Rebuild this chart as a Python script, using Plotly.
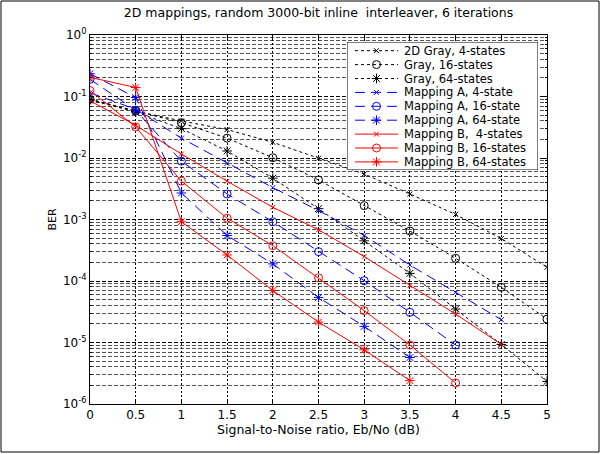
import plotly.graph_objects as go

# Eb/No grid (dB)
snr = [0, 0.5, 1, 1.5, 2, 2.5, 3, 3.5, 4, 4.5, 5]

# BER curves
gray_4 = [0.09, 0.058, 0.040, 0.029, 0.018, 0.0099, 0.0055, 0.0026, 0.00121, 0.00049, 0.000167]
gray_16 = [0.09, 0.058, 0.0375, 0.021, 0.0101, 0.0044, 0.00168, 0.00065, 0.000234, 7.9e-5, 2.4e-5]
gray_64 = [0.088, 0.056, 0.030, 0.013, 0.0047, 0.0015, 0.00045, 0.000133, 3.5e-5, 9.3e-6, 2.33e-6]
map_a_4 = [0.115, 0.062, 0.021, 0.0082, 0.0033, 0.0014, 0.00055, 0.000182, 6.5e-5, 2.35e-5]
map_a_16 = [0.19, 0.060, 0.0089, 0.0026, 0.00092, 0.0003, 0.000101, 3.1e-5, 9.1e-6]
map_a_64 = [0.235, 0.096, 0.0027, 0.00055, 0.00019, 5.4e-5, 1.83e-5, 5.7e-6]
map_b_4 = [0.085, 0.034, 0.0116, 0.0042, 0.00158, 0.00068, 0.00025, 8.4e-5, 2.9e-5, 9.3e-6]
map_b_16 = [0.125, 0.032, 0.0042, 0.00105, 0.000375, 0.000113, 3.3e-5, 9.1e-6, 2.2e-6]
map_b_64 = [0.205, 0.14, 0.00092, 0.000265, 7.0e-5, 2.15e-5, 7.6e-6, 2.4e-6]

names = [
    "2D Gray, 4-states", "Gray, 16-states", "Gray, 64-states",
    "Mapping A, 4-state", "Mapping A, 16-state", "Mapping A, 64-state",
    "Mapping B, \u00a04-states", "Mapping B, 16-states", "Mapping B, 64-states",
]
series = [gray_4, gray_16, gray_64, map_a_4, map_a_16, map_a_64, map_b_4, map_b_16, map_b_64]

y_ticks = [1e-6, 1e-5, 1e-4, 1e-3, 1e-2, 1e-1, 1]
y_ticktext = ["10<sup>-6</sup>", "10<sup>-5</sup>", "10<sup>-4</sup>", "10<sup>-3</sup>",
              "10<sup>-2</sup>", "10<sup>-1</sup>", "10<sup>0</sup>"]
x_ticks = [0, 0.5, 1, 1.5, 2, 2.5, 3, 3.5, 4, 4.5, 5]
x_ticktext = ["0", "0.5", "1", "1.5", "2", "2.5", "3", "3.5", "4", "4.5", "5"]

colors = ["black"] * 3 + ["blue"] * 3 + ["red"] * 3
dashes = ["3px,3px"] * 3 + ["10px,6px"] * 3 + ["solid"] * 3
symbols = ["x-thin-open", "circle-open", "asterisk-open"] * 3
sizes = [5, 8, 8] * 3

FAMILY = "DejaVu Sans, Verdana, sans-serif"

W, H = 601, 454
ml, mr, mt, mb = 90, 54, 35, 50
pw, ph = W - ml - mr, H - mt - mb

fig = go.Figure()
for name, ys, c, d, s, sz in zip(names, series, colors, dashes, symbols, sizes):
    fig.add_trace(go.Scatter(
        x=snr[:len(ys)], y=ys, name=name, mode="lines+markers", showlegend=False,
        line=dict(color=c, width=1, dash=d),
        marker=dict(symbol=s, size=sz, color=c, line=dict(color=c, width=1)),
    ))

# Legend box drawn on its own small pixel-unit subplot in the upper right
box_l, box_r, box_t, box_b = 347, 538, 42, 170
row0, row_step = 50.7, 13.9
sample_x0, sample_x1, text_x = 355, 398, 402

fig.update_layout(
    xaxis2=dict(domain=[(box_l - ml) / pw, (box_r - ml) / pw], range=[box_l, box_r],
                anchor="y2", visible=False, fixedrange=True),
    yaxis2=dict(domain=[1 - (box_b - mt) / ph, 1 - (box_t - mt) / ph], range=[box_b, box_t],
                anchor="x2", visible=False, fixedrange=True),
)
fig.add_shape(type="rect", xref="x2", yref="y2", x0=box_l, x1=box_r, y0=box_b, y1=box_t,
              line=dict(color="black", width=1), fillcolor="white", layer="between")

for i, (name, c, d, s, sz) in enumerate(zip(names, colors, dashes, symbols, sizes)):
    yc = row0 + i * row_step
    fig.add_trace(go.Scatter(
        x=[sample_x0, sample_x1], y=[yc, yc], xaxis="x2", yaxis="y2", mode="lines",
        line=dict(color=c, width=1, dash=d), showlegend=False, hoverinfo="skip",
    ))
    fig.add_trace(go.Scatter(
        x=[(sample_x0 + sample_x1) / 2], y=[yc], xaxis="x2", yaxis="y2", mode="markers",
        marker=dict(symbol=s, size=sz, color=c, line=dict(color=c, width=1)),
        showlegend=False, hoverinfo="skip",
    ))
    fig.add_annotation(x=text_x, y=yc, xref="x2", yref="y2", text=name, showarrow=False,
                       xanchor="left", yanchor="middle",
                       font=dict(family=FAMILY, size=11.5, color="black"))

font = dict(family=FAMILY, size=11, color="black")

fig.update_layout(
    width=W, height=H,
    margin=dict(l=ml, r=mr, t=mt, b=mb, pad=0),
    paper_bgcolor="white", plot_bgcolor="white",
    font=font,
    showlegend=False,
    title=dict(text="2D mappings, random 3000-bit inline \u00a0interleaver, 6 iterations",
               x=(ml + pw / 2) / W, xanchor="center", y=1 - 13 / H, yanchor="middle",
               font=dict(size=12.5, family=FAMILY, color="black")),
    xaxis=dict(
        range=[0, 5], tickvals=x_ticks, ticktext=x_ticktext,
        showline=True, linecolor="black", linewidth=1, mirror="ticks",
        ticks="inside", ticklen=4, tickcolor="black",
        showgrid=True, gridcolor="black", gridwidth=1, griddash="2px,2px",
        zeroline=False, tickfont=dict(family=FAMILY, size=12, color="black"),
        title=dict(text="Signal-to-Noise ratio, Eb/No (dB)", standoff=2,
                   font=dict(family=FAMILY, size=12.5, color="black")),
    ),
    yaxis=dict(
        type="log", range=[-6, 0], tickvals=y_ticks, ticktext=y_ticktext,
        showline=True, linecolor="black", linewidth=1, mirror="ticks",
        ticks="inside", ticklen=4, tickcolor="black",
        showgrid=True, gridcolor="black", gridwidth=1, griddash="4px,2px",
        minor=dict(dtick="D1", showgrid=True, gridcolor="#555555", gridwidth=1,
                   griddash="4px,2px", ticks="inside", ticklen=2, tickcolor="black"),
        zeroline=False, tickfont=dict(family=FAMILY, size=12, color="black"),
        title=dict(text="BER", standoff=4, font=dict(family=FAMILY, size=11, color="black")),
    ),
)

# thin frame around the whole figure
fig.add_shape(type="rect", xref="paper", yref="paper",
              x0=(1 - ml) / pw, x1=(W - 2 - ml) / pw,
              y0=-(H - 2 - mt - ph) / ph, y1=1 + (mt - 1) / ph,
              line=dict(color="black", width=1), fillcolor="rgba(0,0,0,0)", layer="below")

fig.write_html("out.html")
